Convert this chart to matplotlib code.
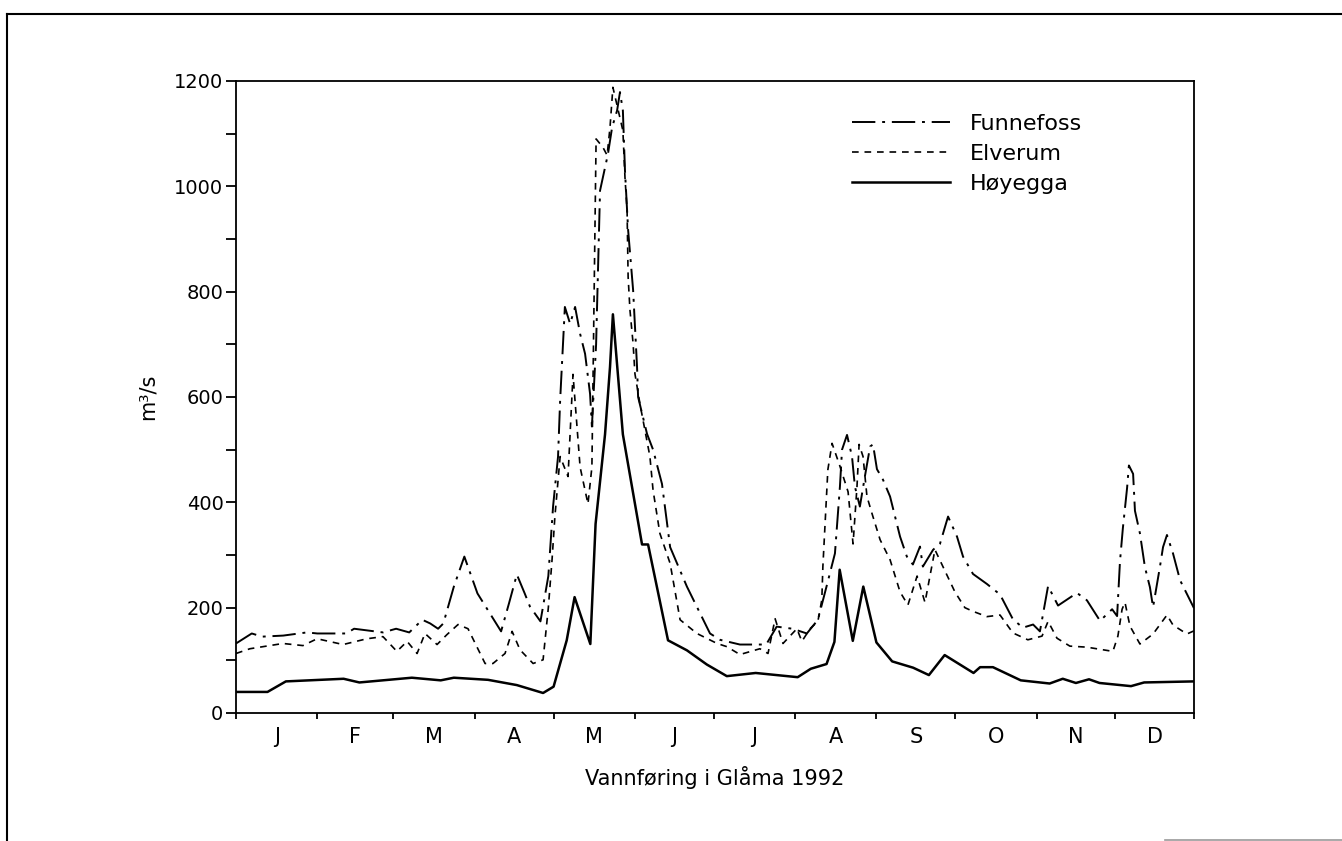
import matplotlib
matplotlib.use("Agg")
import matplotlib.pyplot as plt
from matplotlib.lines import Line2D

# ---- data (day of year, m3/s) ----
hoy_day = [0, 12, 19, 41, 47, 67, 78, 83, 96, 107, 117, 121, 126, 129, 135, 137,
           140.6, 142.5, 143.6, 147.4, 154.7, 157, 164.6, 171.8, 179.4, 187, 198,
           214, 219, 225, 228, 230, 235, 239, 244, 250, 258, 264, 270, 281, 283.5,
           288.4, 299, 310, 315, 320, 325, 329, 341, 346, 365]
hoy_val = [40, 40, 60, 65, 58, 67, 62, 67, 63, 53, 38, 50, 138, 220, 131, 359,
           529, 657, 757, 529, 320, 320, 138, 119, 92, 70, 76,
           68, 84, 93, 135, 272, 137, 240, 134, 98, 86, 72, 110, 76, 87,
           87, 62, 56, 65, 57, 64, 57, 51, 58, 60]

fun_day = [0, 6, 10, 18, 27, 31, 42, 45, 56, 61, 66, 71, 74, 77, 79, 83, 87, 92,
           97, 101, 104, 107, 110, 112, 116, 119, 120.8, 122.7, 123.5, 125.3,
           127.3, 129.2, 131.1, 133, 134.9, 135.6, 137.2, 138.7, 141.7, 143.3,
           145.2, 146.3, 147.4, 148.2, 149.4, 151.3, 152.8, 153.2, 156.6, 158.9,
           162.3, 165.4, 171.8, 180.6, 184.4, 192, 202, 206, 212, 217.5, 221.7,
           225.5, 228.2, 230.1, 230.9, 232.8, 234.7, 235.8, 237.7, 239.6, 241.6,
           242.7, 244.2, 246.5, 249.2, 253, 255.6, 257.9, 260.6, 261.7, 265.6,
           268.2, 271.3, 274.7, 277, 280.8, 286.1, 291.1, 296, 299.8, 303.7,
           306.3, 309.4, 313.2, 320.4, 324.2, 329.2, 333.8, 335.7, 336.8, 337.9,
           339.5, 340.2, 341.8, 342.5, 344.4, 346.3, 348.2, 349.4, 352, 353.2,
           354.7, 357, 359.7, 363.5, 365]
fun_val = [132, 151, 145, 147, 153, 151, 151, 160, 153, 160, 153, 177, 170, 160,
           170, 240, 297, 227, 187, 155, 208, 263, 227, 202, 174, 260, 392, 487,
           594, 771, 739, 771, 720, 682, 606, 544, 700, 992, 1061, 1112, 1144,
           1179, 1144, 1030, 917, 803, 657, 600, 530, 500, 435, 315, 240, 151,
           139, 130, 130, 164, 160, 151, 177, 250, 303, 430, 500, 528, 487, 430,
           392, 449, 506, 510, 463, 443, 411, 335, 297, 282, 316, 278, 310, 321,
           373, 335, 297, 264, 245, 225, 178, 162, 168, 155, 241, 204, 228, 214,
           175, 197, 184, 288, 351, 427, 470, 454, 384, 341, 277, 239, 201, 277,
           315, 338, 303, 252, 214, 199]

elv_day = [0, 5.3, 17.9, 25.5, 30.9, 40.8, 49.9, 56, 61.3, 65.2, 69, 72, 76.6,
           80.4, 84.6, 88.4, 94.9, 97.9, 102.5, 105.2, 108.2, 113.2, 117, 119,
           120.4, 121.5, 123.5, 126.5, 128.4, 131.1, 134.1, 135.6, 137.2, 139.8,
           141.4, 142.5, 143.6, 147.4, 148.2, 149, 149.4, 150.1, 151.3, 152,
           153.9, 157.7, 158.9, 161.5, 165.4, 169.2, 175.6, 183.3, 187, 192,
           199.6, 202.7, 205.4, 208.4, 213.7, 215.6, 218.7, 221.7, 223.2, 223.6,
           225.5, 227.1, 230, 233.2, 235.1, 236.6, 237.4, 238.9, 240.4, 242.3,
           245.4, 249.2, 253, 256, 259.5, 262.5, 266.3, 270.1, 273.9, 277.7,
           280.8, 286.1, 291.1, 296, 301.7, 307.1, 309.4, 312.8, 317.7, 324.2,
           334.1, 336, 337.6, 338.7, 340.6, 344.4, 349.4, 354.7, 357, 362.3, 365]
elv_val = [113, 122, 132, 128, 141, 130, 141, 145, 117, 136, 113, 151, 130, 149,
           168, 160, 94, 94, 113, 155, 120, 94, 101, 200, 290, 373, 487, 449, 643,
           467, 397, 467, 1090, 1074, 1059, 1112, 1188, 1106, 1017, 955, 828, 765,
           701, 644, 587, 487, 423, 341, 284, 177, 151, 132, 126, 111, 122, 113,
           179, 132, 160, 136, 160, 174, 215, 278, 462, 512, 470, 420, 321, 430,
           510, 487, 411, 379, 329, 291, 230, 205, 260, 210, 310, 270, 230, 200,
           193, 183, 186, 152, 139, 146, 174, 142, 127, 125, 117, 146, 197, 210,
           165, 131, 150, 186, 167, 150, 156]

month_edges = [0, 31, 60, 91, 121, 152, 182, 213, 244, 274, 305, 335, 365]
month_labels = ["J", "F", "M", "A", "M", "J", "J", "A", "S", "O", "N", "D"]
y_ticks_major = [0, 200, 400, 600, 800, 1000, 1200]
y_ticks_minor = [100, 300, 500, 700, 900, 1100]

plt.rcParams['font.family'] = ['DejaVu Sans']

fig = plt.figure(figsize=(13.42, 8.41), dpi=100)
ax = fig.add_axes([236 / 1342, 1 - 713 / 841, (1194 - 236) / 1342, 632 / 841])

line_kw = dict(color='black', solid_joinstyle='round', dash_joinstyle='round')
ax.plot(fun_day, fun_val, lw=1.4, dashes=(12, 3.5, 1.5, 3.5),
        label='Funnefoss', **line_kw)
ax.plot(elv_day, elv_val, lw=1.2, dashes=(4, 3.5), label='Elverum', **line_kw)
ax.plot(hoy_day, hoy_val, lw=1.8, label='Høyegga', **line_kw)

ax.set_xlim(0, 365)
ax.set_ylim(0, 1200)

for s in ax.spines.values():
    s.set_linewidth(1.3)

ax.set_yticks(y_ticks_major)
ax.set_yticks(y_ticks_minor, minor=True)
ax.tick_params(axis='y', which='both', direction='out', length=7, width=1.3,
               labelsize=14, pad=2)

ax.set_xticks(month_edges)
ax.set_xticklabels([''] * len(month_edges))
mids = [(month_edges[i] + month_edges[i + 1]) / 2 for i in range(12)]
ax.set_xticks(mids, minor=True)
ax.set_xticklabels(month_labels, minor=True)
ax.tick_params(axis='x', which='major', direction='out', length=4, width=1.3)
ax.tick_params(axis='x', which='minor', length=0, labelsize=15, pad=10)

ax.set_ylabel('m³/s', fontsize=15, labelpad=12)
ax.set_xlabel('Vannføring i Glåma 1992', fontsize=15, labelpad=14)

ax.legend(loc='upper left', bbox_to_anchor=(852 / 1342, 1 - 114 / 841),
          bbox_transform=fig.transFigure, frameon=False, fontsize=16,
          handlelength=4.4, handletextpad=0.9, labelspacing=0.45,
          borderpad=0, borderaxespad=0)

# page frame lines of the scanned sheet
fig.add_artist(Line2D([7 / 1342, 1.0], [1 - 14 / 841, 1 - 14 / 841],
                      transform=fig.transFigure, color='black', lw=1.5))
fig.add_artist(Line2D([7 / 1342, 7 / 1342], [0, 1 - 14 / 841],
                      transform=fig.transFigure, color='black', lw=1.5))
fig.add_artist(Line2D([1165 / 1342, 1.0], [1.5 / 841, 1.5 / 841],
                      transform=fig.transFigure, color='#999999', lw=1.2))

fig.savefig('out.png', dpi=100)
